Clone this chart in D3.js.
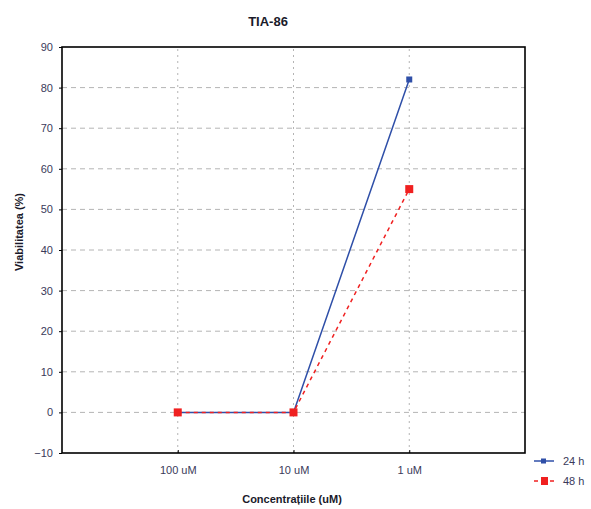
<!DOCTYPE html>
<html>
<head>
<meta charset="utf-8">
<script src="https://cdn.jsdelivr.net/npm/d3@7"></script>
<style>
  body { margin: 0; background: #fff; }
  text { font-family: "Liberation Sans", Arial, sans-serif; }
</style>
</head>
<body>
<svg id="chart" width="591" height="509"></svg>
<script>
// data
const categories = ['100 uM', '10 uM', '1 uM'];
const seriesNames = ['24 h', '48 h'];
const values24 = [0, 0, 82];
const values48 = [0, 0, 55];
const yTicks = [-10, 0, 10, 20, 30, 40, 50, 60, 70, 80, 90];

const svg = d3.select('#chart');
const margin = {left: 62, right: 66, top: 47, bottom: 56};
const W = 591, H = 509;

// categories sit at positions 1..3 of a 0..4 range
const x = d3.scaleLinear().domain([0, categories.length + 1]).range([margin.left, W - margin.right]);
const y = d3.scaleLinear().domain([-10, 90]).range([H - margin.bottom, margin.top]);

const g = svg.append('g');

/* grid */
g.selectAll('line.hgrid')
  .data(yTicks.filter(d => d > -10 && d < 90))
  .enter().append('line')
  .attr('class', 'hgrid')
  .attr('x1', x.range()[0]).attr('x2', x.range()[1])
  .attr('y1', d => y(d)).attr('y2', d => y(d))
  .style('stroke', '#b4b4b4').style('stroke-dasharray', '5,4').style('stroke-width', 1);

g.selectAll('line.vgrid')
  .data(categories)
  .enter().append('line')
  .attr('class', 'vgrid')
  .attr('x1', (d, i) => x(i + 1)).attr('x2', (d, i) => x(i + 1))
  .attr('y1', y.range()[0]).attr('y2', y.range()[1])
  .style('stroke', '#b4b4b4').style('stroke-dasharray', '2,4').style('stroke-width', 1);

/* axes */
const yAxis = d3.axisLeft(y).tickValues(yTicks).tickSize(3).tickPadding(6);
const gy = g.append('g').attr('transform', `translate(${margin.left},0)`).call(yAxis);
const xAxis = d3.axisBottom(x).tickValues(categories.map((d, i) => i + 1))
  .tickFormat((d) => categories[d - 1]).tickSize(3).tickPadding(10);
const gx = g.append('g').attr('transform', `translate(0,${H - margin.bottom})`).call(xAxis);
[gx, gy].forEach(a => {
  a.select('.domain').remove();
  a.selectAll('text').style('font-size', '11px').style('fill', '#3a3a5a');
  a.selectAll('line').style('stroke', '#000');
});
gx.selectAll('.tick line').attr('y2', -3);

/* frame */
g.append('rect')
  .attr('x', margin.left).attr('y', margin.top)
  .attr('width', W - margin.left - margin.right)
  .attr('height', H - margin.top - margin.bottom)
  .style('fill', 'none').style('stroke', '#000').style('stroke-width', 1.6);

/* series */
const line = d3.line().x((d, i) => x(i + 1)).y(d => y(d));

g.append('path').datum(values24)
  .attr('d', line)
  .style('fill', 'none').style('stroke', '#2f4fa8').style('stroke-width', 1.5);
g.append('path').datum(values48)
  .attr('d', line)
  .style('fill', 'none').style('stroke', '#f02020').style('stroke-width', 1.5)
  .style('stroke-dasharray', '4,4');

g.selectAll('rect.m24').data(values24).enter().append('rect')
  .attr('class', 'm24')
  .attr('x', (d, i) => x(i + 1) - 3).attr('y', d => y(d) - 3)
  .attr('width', 6).attr('height', 6)
  .style('fill', '#2f4fa8');
g.selectAll('rect.m48').data(values48).enter().append('rect')
  .attr('class', 'm48')
  .attr('x', (d, i) => x(i + 1) - 4).attr('y', d => y(d) - 4)
  .attr('width', 8).attr('height', 8)
  .style('fill', '#f02020');

/* titles */
svg.append('text').attr('x', 268).attr('y', 26)
  .attr('text-anchor', 'middle')
  .style('font-size', '13px').style('font-weight', 'bold').style('fill', '#1a1a2a')
  .text('TIA-86');
svg.append('text').attr('x', 292).attr('y', 503)
  .attr('text-anchor', 'middle')
  .style('font-size', '11px').style('font-weight', 'bold').style('fill', '#1a1a2a')
  .text('Concentrațiile (uM)');
svg.append('text')
  .attr('transform', 'translate(23,232) rotate(-90)')
  .attr('text-anchor', 'middle')
  .style('font-size', '11px').style('font-weight', 'bold').style('fill', '#1a1a2a')
  .text('Viabilitatea (%)');

/* legend */
const legend = svg.append('g').attr('transform', 'translate(534,461)');
const lg = legend.selectAll('g').data(seriesNames).enter().append('g')
  .attr('transform', (d, i) => `translate(0,${i * 20})`);
lg.append('line').attr('x1', 0).attr('x2', 20).attr('y1', 0).attr('y2', 0)
  .style('stroke', (d, i) => i ? '#f02020' : '#2f4fa8').style('stroke-width', 1.5)
  .style('stroke-dasharray', (d, i) => i ? '4,4' : null);
lg.append('rect')
  .attr('x', (d, i) => i ? 7 : 7).attr('y', (d, i) => i ? -4 : -2.5)
  .attr('width', (d, i) => i ? 7 : 5).attr('height', (d, i) => i ? 8 : 5)
  .style('fill', (d, i) => i ? '#f02020' : '#2f4fa8');
lg.append('text').attr('x', 29).attr('y', 4)
  .style('font-size', '11px').style('fill', '#3a3a5a')
  .text(d => d);
</script>
</body>
</html>
